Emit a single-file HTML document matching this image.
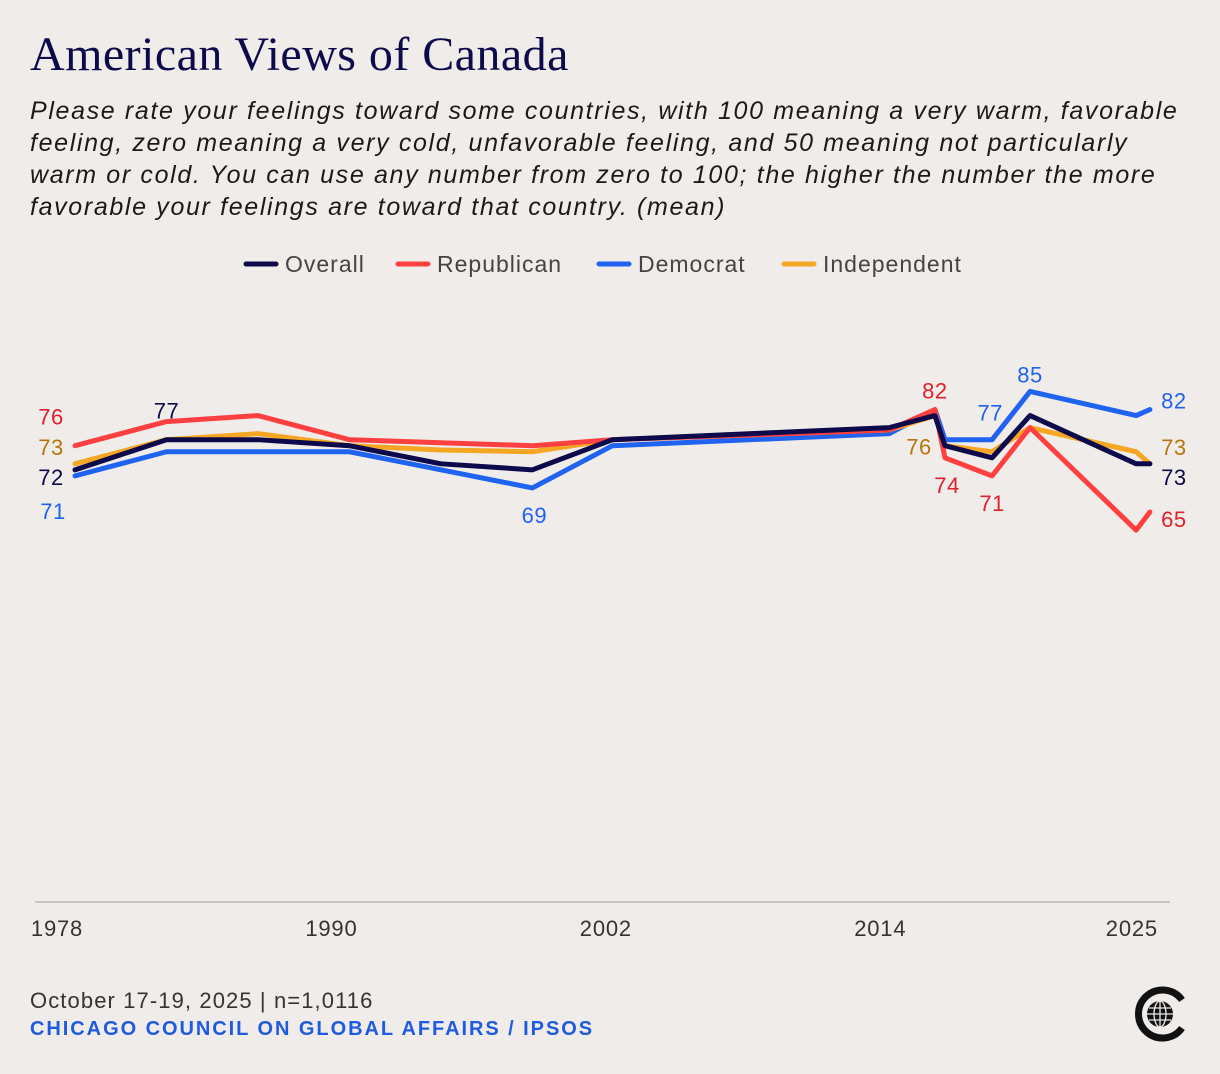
<!DOCTYPE html>
<html><head><meta charset="utf-8"><style>
body{margin:0;background:#f0ecea;}
#wrap{position:relative;width:1220px;height:1074px;background:#f0ecea;font-family:"Liberation Sans",sans-serif;overflow:hidden}
h1{position:absolute;left:30px;top:27px;margin:0;font-family:"Liberation Serif",serif;font-weight:normal;font-size:48px;color:#0c0a4a;letter-spacing:0.45px}
#sub{position:absolute;left:30px;top:95px;width:1190px;font-style:italic;font-size:25px;line-height:32px;color:#1a1a1a;letter-spacing:1.65px;white-space:nowrap}
#foot1{position:absolute;left:30px;top:988px;font-size:22px;color:#333;letter-spacing:1.1px}
#foot2{position:absolute;left:30px;top:1018px;font-size:20px;font-weight:bold;color:#1f5be0;letter-spacing:1.95px}
</style></head><body>
<div id="wrap">
<h1>American Views of Canada</h1>
<div id="sub">Please rate your feelings toward some countries, with 100 meaning a very warm, favorable<br>feeling, zero meaning a very cold, unfavorable feeling, and 50 meaning not particularly<br>warm or cold. You can use any number from zero to 100; the higher the number the more<br>favorable your feelings are toward that country. (mean)</div>
<svg id="chart" width="1220" height="1074" style="position:absolute;left:0;top:0"></svg>
<div id="foot1">October 17-19, 2025 | n=1,0116</div>
<div id="foot2">CHICAGO COUNCIL ON GLOBAL AFFAIRS / IPSOS</div>
<svg width="60" height="60" style="position:absolute;left:1130px;top:984px">
<path d="M52 16 A24 24 0 1 0 52 44" fill="none" stroke="#111" stroke-width="7"/>
<circle cx="30" cy="30" r="13" fill="#111"/>
<g stroke="#f0ecea" stroke-width="1.3" fill="none"><ellipse cx="30" cy="30" rx="6" ry="13"/><line x1="17" y1="30" x2="43" y2="30"/><line x1="19" y1="24" x2="41" y2="24"/><line x1="19" y1="36" x2="41" y2="36"/><line x1="30" y1="17" x2="30" y2="43"/></g>
</svg>
</div>
<script>
const years=[1978,1982,1986,1990,1994,1998,2001.5,2013.6,2015.6,2016.04,2018.1,2019.76,2024.4,2025];
const overall=[72,77,77,76,73,72,77,79,81,76,74,81,73,73];
const republican=[76,80,81,77,76.5,76,77,78.6,82,74,71,79,62,65];
const democrat=[71,75,75,75,72,69,76,78,82,77,77,85,81,82];
const independent=[73,77,78,76,75.3,75,77,78.6,81,76,75,79,75,73];
const tickYears=[1978,1990,2002,2014,2025];
const seriesNames=["Overall","Republican","Democrat","Independent"];
const seriesColors=["#0c0a4a","#ff4040","#1f63f0","#f5a623"];

const svg=document.getElementById('chart');
const NS="http://www.w3.org/2000/svg";
const x=y=>75+(y-1978)*22.87;
const yv=v=>904-v*6.03;
function mk(tag,attrs,parent){const e=document.createElementNS(NS,tag);for(const k in attrs)e.setAttribute(k,attrs[k]);(parent||svg).appendChild(e);return e;}

const ax=mk('line',{x1:35,x2:1170,y1:902,y2:902,stroke:'#c8c4c2','stroke-width':2});


tickYears.forEach(t=>{
  const tx=mk('text',{x:x(t)-18,y:936,'text-anchor':'middle','font-size':22,fill:'#333','font-family':'Liberation Sans, sans-serif','letter-spacing':'0.8'});
  tx.textContent=t;
  
  
});

const legX=[246,398,599,784];
seriesNames.forEach((n,i)=>{
  const l=mk('line',{x1:legX[i],x2:legX[i]+30,y1:264,y2:264,stroke:seriesColors[i],'stroke-width':5,'stroke-linecap':'round'});
  
  
  const t=mk('text',{x:legX[i]+39,y:272,'font-size':23,fill:'#444','font-family':'Liberation Sans, sans-serif','letter-spacing':'1'});
  t.textContent=n;
  
  
});

const sets=[[democrat,2,'democrat-line'],[independent,3,'independent-line'],[republican,1,'republican-line'],[overall,0,'overall-line']];
sets.forEach(([d,ci,name])=>{
  const p=mk('polyline',{points:d.map((v,i)=>x(years[i])+','+yv(v)).join(' '),fill:'none',stroke:seriesColors[ci],'stroke-width':5,'stroke-linejoin':'round','stroke-linecap':'round'});
  
  
});

const labels=[
 [republican,0,-24,-22,'#e0202a'],[independent,0,-24,-10,'#b8750a'],[overall,0,-24,14,'#0c0a4a'],[democrat,0,-22,42,'#1f63f0'],
 [overall,1,0,-22,'#0c0a4a'],[democrat,5,2,34,'#1f63f0'],
 [republican,8,0,-12,'#e0202a'],[independent,9,-26,8,'#b8750a'],[republican,9,2,34,'#e0202a'],[republican,10,0,34,'#e0202a'],
 [democrat,10,-2,-20,'#1f63f0'],[democrat,11,0,-10,'#1f63f0'],
 [democrat,13,24,-2,'#1f63f0'],[independent,13,24,-10,'#b8750a'],[overall,13,24,20,'#0c0a4a'],[republican,13,24,14,'#e0202a']
];
labels.forEach(([d,i,dx,dy,c])=>{
  const t=mk('text',{x:x(years[i])+dx,y:yv(d[i])+dy+1,'text-anchor':'middle','font-size':22,fill:c,'font-family':'Liberation Sans, sans-serif','letter-spacing':'0.5'});
  t.textContent=Math.round(d[i]);
  
  
});
</script>
</body></html>
